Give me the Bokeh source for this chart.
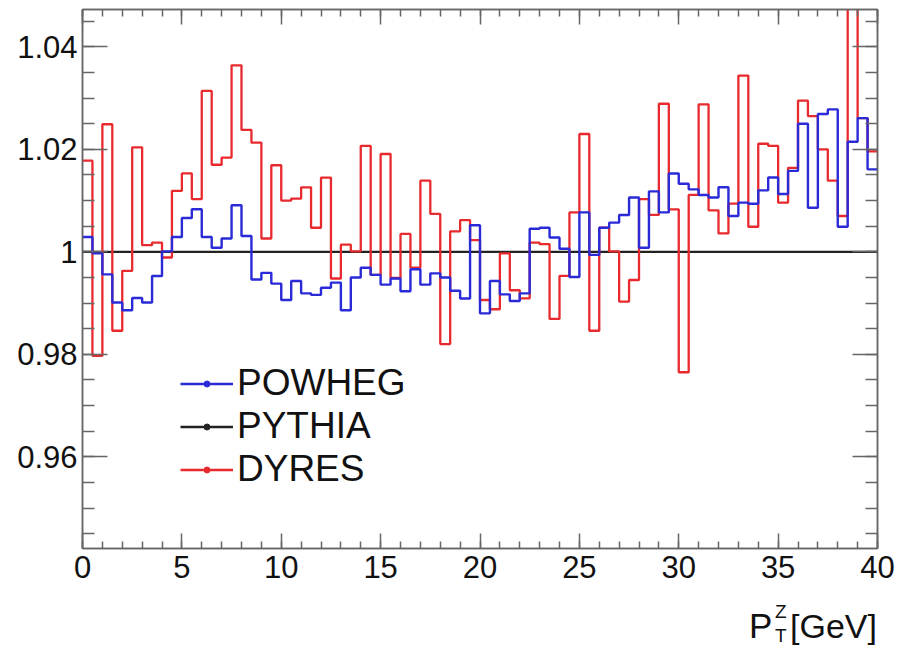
import numpy as np
from bokeh.plotting import figure
from bokeh.layouts import column
from bokeh.models import (LinearAxis, FixedTicker, SingleIntervalTicker, CustomJSTickFormatter,
                          Legend, LegendItem, Range1d, Div)
from bokeh.embed import file_html
from bokeh.resources import INLINE

# ---- data: ratio to PYTHIA, 80 bins of 0.5 GeV from 0 to 40 GeV ----
bin_width = 0.5
bin_low = [i * bin_width for i in range(80)]

powheg = [1.0029, 0.9997, 0.9956, 0.9901, 0.9886, 0.9910, 0.9901, 0.9953, 1.0001, 1.0029,
          1.0066, 1.0083, 1.0029, 1.0008, 1.0026, 1.0091, 1.0031, 0.9946, 0.9959, 0.9938,
          0.9906, 0.9943, 0.9919, 0.9916, 0.9930, 0.9940, 0.9886, 0.9950, 0.9969, 0.9955,
          0.9936, 0.9948, 0.9923, 0.9966, 0.9936, 0.9958, 0.9950, 0.9924, 0.9909, 1.0052,
          0.9880, 0.9943, 0.9917, 0.9904, 0.9919, 1.0045, 1.0047, 1.0028, 1.0006, 0.9951,
          1.0077, 0.9994, 1.0047, 1.0057, 1.0072, 1.0106, 1.0008, 1.0118, 1.0077, 1.0153,
          1.0133, 1.0122, 1.0111, 1.0106, 1.0126, 1.0070, 1.0096, 1.0094, 1.0120, 1.0145,
          1.0113, 1.0158, 1.0250, 1.0086, 1.0269, 1.0278, 1.0049, 1.0215, 1.0261, 1.0161]

dyres = [1.0178, 0.9797, 1.0249, 0.9846, 0.9963, 1.0204, 1.0013, 1.0018, 0.9989, 1.0119,
         1.0153, 1.0103, 1.0314, 1.0170, 1.0184, 1.0364, 1.0238, 1.0213, 1.0026, 1.0169,
         1.0100, 1.0104, 1.0126, 1.0047, 1.0145, 0.9948, 1.0014, 1.0001, 1.0207, 0.9955,
         1.0191, 0.9949, 1.0035, 0.9969, 1.0139, 1.0074, 0.9820, 1.0040, 1.0062, 1.0023,
         0.9906, 0.9888, 0.9997, 0.9925, 0.9909, 1.0018, 1.0015, 0.9869, 0.9953, 1.0077,
         1.0230, 0.9846, 1.0047, 1.0001, 0.9903, 0.9945, 1.0103, 1.0072, 1.0289, 1.0083,
         0.9765, 1.0111, 1.0288, 1.0081, 1.0036, 1.0094, 1.0344, 1.0049, 1.0211, 1.0207,
         1.0096, 1.0164, 1.0295, 1.0265, 1.0200, 1.0139, 1.0070, 1.0500, 1.0261, 1.0196]

pythia = [1.0] * 80

y_major = [0.96, 0.98, 1.0, 1.02, 1.04]
y_minor = [0.945, 0.95, 0.955, 0.96, 0.965, 0.97, 0.975, 0.98, 0.985, 0.99, 0.995, 1.0,
           1.005, 1.01, 1.015, 1.02, 1.025, 1.03, 1.035, 1.04, 1.045]

RED = "#e82a2e"
BLUE = "#2a2ad6"
BLACK = "#222222"
FRAME = "#666666"
FONT = "Liberation Sans"

p = figure(width=897, height=600, output_backend="svg", toolbar_location=None,
           x_range=Range1d(0, 40), y_range=Range1d(0.9421, 1.0473),
           x_axis_location=None, y_axis_location=None,
           min_border_left=82, min_border_right=20, min_border_top=9, min_border_bottom=52)
p.xgrid.grid_line_color = None
p.ygrid.grid_line_color = None
p.outline_line_color = FRAME
p.outline_line_width = 1.5
p.background_fill_color = "white"
p.border_fill_color = "white"


def step_xy(vals):
    xs = list(bin_low) + [bin_low[-1] + bin_width]
    ys = list(vals) + [vals[-1]]
    return xs, ys


for vals, col, w in [(pythia, BLACK, 2.2), (dyres, RED, 2.3), (powheg, BLUE, 2.4)]:
    xs, ys = step_xy(vals)
    p.step(xs, ys, mode="after", line_color=col, line_width=w)

fmt_y = CustomJSTickFormatter(code="return String(Number(tick.toFixed(3)));")
empty_fmt = CustomJSTickFormatter(code="return '';")


def style_axis(ax, major_in, minor_in, show_labels):
    ax.axis_line_color = FRAME
    ax.axis_line_width = 1.5
    ax.major_tick_line_color = FRAME
    ax.minor_tick_line_color = FRAME
    ax.major_tick_line_width = 1.5
    ax.minor_tick_line_width = 1.5
    ax.major_tick_in = major_in
    ax.major_tick_out = 0
    ax.minor_tick_in = minor_in
    ax.minor_tick_out = 0
    ax.major_label_text_font = FONT
    ax.major_label_text_color = "#111111"
    if show_labels:
        ax.major_label_text_font_size = "31px"
    else:
        ax.major_label_text_font_size = "0px"
        ax.major_label_standoff = 0
        ax.formatter = empty_fmt


xb = LinearAxis(ticker=SingleIntervalTicker(interval=5, num_minor_ticks=5))
style_axis(xb, 15, 7, True)
xb.major_label_standoff = 7
p.add_layout(xb, "below")

xt = LinearAxis(ticker=SingleIntervalTicker(interval=5, num_minor_ticks=5))
style_axis(xt, 15, 7, False)
p.add_layout(xt, "above")

yl = LinearAxis(ticker=FixedTicker(ticks=y_major, minor_ticks=y_minor), formatter=fmt_y)
style_axis(yl, 25, 12, True)
yl.major_label_standoff = 5
p.add_layout(yl, "left")

yr = LinearAxis(ticker=FixedTicker(ticks=y_major, minor_ticks=y_minor))
style_axis(yr, 25, 12, False)
p.add_layout(yr, "right")

# legend (proxy glyphs placed outside the visible x range, only used for the legend)
items = []
for name, col in [("POWHEG", BLUE), ("PYTHIA", BLACK), ("DYRES", RED)]:
    lr = p.line(x=[-3, -2], y=[1, 1], line_color=col, line_width=2.4)
    sr = p.scatter(x=[-2.5], y=[1], marker="circle", size=6, fill_color=col, line_color=col)
    items.append(LegendItem(label=name, renderers=[lr, sr]))
leg = Legend(items=items, location=(98, 58), glyph_width=53, glyph_height=15,
             label_height=40, label_standoff=4, spacing=1, padding=0, margin=0,
             border_line_color=None, background_fill_alpha=0,
             label_text_font=FONT, label_text_font_size="37px", label_text_color="#111111")
p.add_layout(leg)

# x-axis title  P_T^Z [GeV], as HTML text below the plot
title_html = (
    '<div style="position:relative; width:897px; height:46px; font-family:\'Liberation Sans\';'
    ' color:#111111; line-height:1;">'
    '<span style="position:absolute; left:749px; top:8px; font-size:35px;">P</span>'
    '<span style="position:absolute; left:775px; top:2px; font-size:19px;">Z</span>'
    '<span style="position:absolute; left:775px; top:26px; font-size:19px;">T</span>'
    '<span style="position:absolute; left:790px; top:9px; font-size:34px; white-space:nowrap;">[GeV]</span>'
    '</div>'
)
xtitle = Div(text=title_html, width=897, height=46, margin=(0, 0, 0, 0))

layout = column(p, xtitle, spacing=0, margin=(0, 0, 0, 0))
open("out.html", "w").write(file_html(layout, INLINE))
